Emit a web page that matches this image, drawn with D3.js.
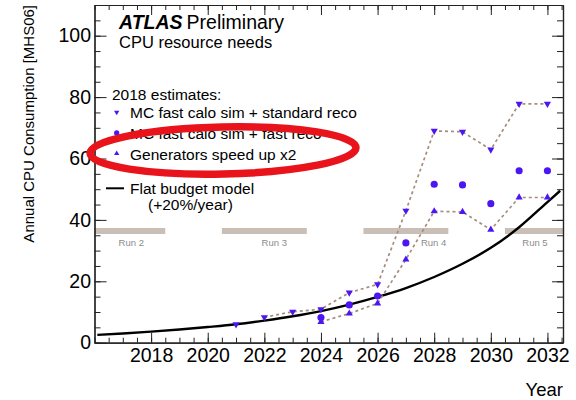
<!DOCTYPE html>
<html>
<head>
<meta charset="utf-8">
<script src="https://cdn.jsdelivr.net/npm/d3@7"></script>
<style>
  html, body { margin: 0; padding: 0; background: #fff; }
  svg { display: block; font-family: "Liberation Sans", Arial, Helvetica, sans-serif; }
</style>
</head>
<body>
<svg id="chart" width="576" height="400"></svg>
<script>
// ---- data ----------------------------------------------------------------
const years = [2021, 2022, 2023, 2024, 2025, 2026, 2027, 2028, 2029, 2030, 2031, 2032];
const fastCaloStdReco  = [6.0, 8.3, 10.1, 10.9, 16.3, 19.0, 43.0, 69.0, 68.7, 62.9, 77.8, 77.8];
const fastCaloFastReco = [null, null, null, 8.2, 12.3, 15.2, 32.5, 51.6, 51.4, 45.3, 56.0, 56.0];
const generatorsX2     = [null, null, null, 6.8, 9.5, 12.8, 27.1, 42.8, 42.6, 36.8, 47.3, 47.3];
// first year from which each projection is joined by a dashed line
const stdRecoLinkedFrom = 2022;
const generatorsLinkedFrom = 2024;

// flat budget model (+20%/year)
const budgetYears  = [2016.1, 2017, 2018, 2019, 2020, 2021, 2022, 2023, 2024, 2025, 2026, 2027, 2028, 2029, 2030, 2031, 2032, 2032.45];
const budgetValues = [2.55, 3.0, 3.6, 4.3, 5.1, 6.0, 7.2, 8.6, 10.3, 12.4, 14.9, 17.8, 21.4, 25.7, 30.9, 37.6, 45.8, 49.5];

// LHC run periods
const runNames  = ["Run 2", "Run 3", "Run 4", "Run 5"];
const runStarts = [2016, 2020.5, 2025.5, 2030.5];
const runEnds   = [2018.5, 2023.5, 2028.5, 2032.55];
const runLabelYears = [2017.3, 2022.35, 2027.98, 2031.56];
const runBandLevel = 36.4;

// axis ticks
const xMajorTicks = [2018, 2020, 2022, 2024, 2026, 2028, 2030, 2032];
const yMajorTicks = [0, 20, 40, 60, 80, 100];

// ---- layout ----------------------------------------------------------------
const frame = { left: 94.5, right: 563, top: 5, bottom: 342.7 };
const markerColor = "#4b16f2";
const dashColor = "#a68c7e";
const font = '"Liberation Sans", Arial, Helvetica, sans-serif';

const svg = d3.select("#chart");
const x = d3.scaleLinear().domain([2016, 2032.55]).range([frame.left, frame.right]);
const y = d3.scaleLinear().domain([0, 110]).range([frame.bottom, frame.top]);

svg.append("defs").append("clipPath").attr("id", "plotClip")
  .append("rect")
  .attr("x", frame.left).attr("y", frame.top)
  .attr("width", frame.right - frame.left).attr("height", frame.bottom - frame.top);

const plot = svg.append("g").attr("clip-path", "url(#plotClip)");

// run period bands
runNames.forEach((name, i) => {
  plot.append("line")
    .attr("x1", x(runStarts[i])).attr("x2", x(runEnds[i]))
    .attr("y1", y(runBandLevel)).attr("y2", y(runBandLevel))
    .attr("stroke", "#c9bfb6").attr("stroke-width", 6);
  plot.append("text")
    .attr("x", x(runLabelYears[i])).attr("y", y(runBandLevel) + 15)
    .attr("text-anchor", "middle")
    .attr("font-size", 9.5).attr("fill", "#8c8c8c")
    .text(name);
});

// flat budget curve
plot.append("path")
  .datum(budgetYears.map((yr, i) => [yr, budgetValues[i]]))
  .attr("fill", "none").attr("stroke", "#000").attr("stroke-width", 2.4)
  .attr("d", d3.line().x(d => x(d[0])).y(d => y(d[1])).curve(d3.curveMonotoneX));

// dashed links
const link = d3.line().x(d => x(d[0])).y(d => y(d[1]));
function linked(values, fromYear) {
  return years.map((yr, i) => [yr, values[i]]).filter(d => d[0] >= fromYear && d[1] != null);
}
[[fastCaloStdReco, stdRecoLinkedFrom], [generatorsX2, generatorsLinkedFrom]].forEach(([vals, from]) => {
  plot.append("path")
    .datum(linked(vals, from))
    .attr("fill", "none").attr("stroke", dashColor)
    .attr("stroke-width", 1.7).attr("stroke-dasharray", "3,3")
    .attr("d", link);
});

// markers
const triUp = d3.symbol().type(d3.symbolTriangle).size(22);
const circ = d3.symbol().type(d3.symbolCircle).size(40);
function drawMarkers(values, path, rotate) {
  plot.selectAll(null)
    .data(years.map((yr, i) => [yr, values[i]]).filter(d => d[1] != null))
    .enter().append("path")
    .attr("d", path)
    .attr("transform", d => `translate(${x(d[0])},${y(d[1])})` + (rotate ? " rotate(180)" : ""))
    .attr("fill", markerColor);
}
drawMarkers(generatorsX2, triUp(), false);
drawMarkers(fastCaloFastReco, circ(), false);
drawMarkers(fastCaloStdReco, triUp(), true);

// ---- axes ------------------------------------------------------------------
const axisColor = "#222";
const xMinorTicks = d3.range(2016, 2032.55, 0.5);
const yMinorTicks = d3.range(0, 110.1, 5);

function styleAxis(g) {
  g.select(".domain").attr("stroke", axisColor).attr("stroke-width", 1.2);
  g.selectAll(".tick line").attr("stroke", axisColor).attr("stroke-width", 1);
}

// bottom
svg.append("g").attr("transform", `translate(0,${frame.bottom})`)
  .call(d3.axisBottom(x).tickValues(xMinorTicks).tickSizeInner(-5).tickSizeOuter(0).tickFormat(""))
  .call(styleAxis);
svg.append("g").attr("transform", `translate(0,${frame.bottom})`)
  .call(d3.axisBottom(x).tickValues(xMajorTicks).tickSizeInner(-10).tickSizeOuter(0)
        .tickPadding(5.5).tickFormat(d3.format("d")))
  .call(styleAxis)
  .call(g => g.selectAll("text").attr("font-size", 19.5).attr("font-family", font).attr("fill", "#000"));
// top
svg.append("g").attr("transform", `translate(0,${frame.top})`)
  .call(d3.axisTop(x).tickValues(xMinorTicks).tickSizeInner(-5).tickSizeOuter(0).tickFormat(""))
  .call(styleAxis);
svg.append("g").attr("transform", `translate(0,${frame.top})`)
  .call(d3.axisTop(x).tickValues(xMajorTicks).tickSizeInner(-10).tickSizeOuter(0).tickFormat(""))
  .call(styleAxis);
// left
svg.append("g").attr("transform", `translate(${frame.left},0)`)
  .call(d3.axisLeft(y).tickValues(yMinorTicks).tickSizeInner(-6).tickSizeOuter(0).tickFormat(""))
  .call(styleAxis);
svg.append("g").attr("transform", `translate(${frame.left},0)`)
  .call(d3.axisLeft(y).tickValues(yMajorTicks).tickSizeInner(-12).tickSizeOuter(0)
        .tickPadding(3.5).tickFormat(d3.format("d")))
  .call(styleAxis)
  .call(g => g.selectAll("text").attr("font-size", 19.5).attr("font-family", font).attr("fill", "#000"));
// right
svg.append("g").attr("transform", `translate(${frame.right},0)`)
  .call(d3.axisRight(y).tickValues(yMinorTicks).tickSizeInner(-6).tickSizeOuter(0).tickFormat(""))
  .call(styleAxis);
svg.append("g").attr("transform", `translate(${frame.right},0)`)
  .call(d3.axisRight(y).tickValues(yMajorTicks).tickSizeInner(-11).tickSizeOuter(0).tickFormat(""))
  .call(styleAxis);

// axis titles
svg.append("text")
  .attr("transform", `translate(34,${frame.top}) rotate(-90)`)
  .attr("text-anchor", "end").attr("font-size", 15)
  .text("Annual CPU Consumption [MHS06]");
svg.append("text")
  .attr("x", frame.right).attr("y", 396)
  .attr("text-anchor", "end").attr("font-size", 18.5)
  .text("Year");

// ---- labels & legend -------------------------------------------------------
const head = svg.append("text").attr("x", 119).attr("y", 29).attr("font-size", 19.5);
head.append("tspan").attr("font-weight", "bold").attr("font-style", "italic").text("ATLAS");
head.append("tspan").attr("dx", 4).text("Preliminary");
svg.append("text").attr("x", 119).attr("y", 47.5).attr("font-size", 16.5).text("CPU resource needs");

svg.append("text").attr("x", 112).attr("y", 99.5).attr("font-size", 15.5).text("2018 estimates:");

const legendEntries = [
  { label: "MC fast calo sim + standard reco", shape: "down", y: 118.3 },
  { label: "MC fast calo sim + fast reco", shape: "circle", y: 139 },
  { label: "Generators speed up x2", shape: "up", y: 159.5 }
];
const legTri = d3.symbol().type(d3.symbolTriangle).size(12)();
const legCirc = d3.symbol().type(d3.symbolCircle).size(22)();
legendEntries.forEach(e => {
  svg.append("path")
    .attr("d", e.shape === "circle" ? legCirc : legTri)
    .attr("transform", `translate(116.7,${e.y - 6})` + (e.shape === "down" ? " rotate(180)" : ""))
    .attr("fill", markerColor);
  svg.append("text").attr("x", 130).attr("y", e.y).attr("font-size", 15.5).text(e.label);
});

svg.append("line").attr("x1", 106).attr("x2", 124).attr("y1", 188.3).attr("y2", 188.3)
  .attr("stroke", "#000").attr("stroke-width", 2);
svg.append("text").attr("x", 130).attr("y", 193.5).attr("font-size", 15.5).text("Flat budget model");
svg.append("text").attr("x", 148).attr("y", 209.5).attr("font-size", 15.5).text("(+20%/year)");

// highlight ellipse around the generator speed-up entry
svg.append("ellipse")
  .attr("cx", 223).attr("cy", 150.5).attr("rx", 133).attr("ry", 23.5)
  .attr("transform", "rotate(-1.2,223,150.5)")
  .attr("fill", "none").attr("stroke", "#e8131b").attr("stroke-width", 7.5);
</script>
</body>
</html>
